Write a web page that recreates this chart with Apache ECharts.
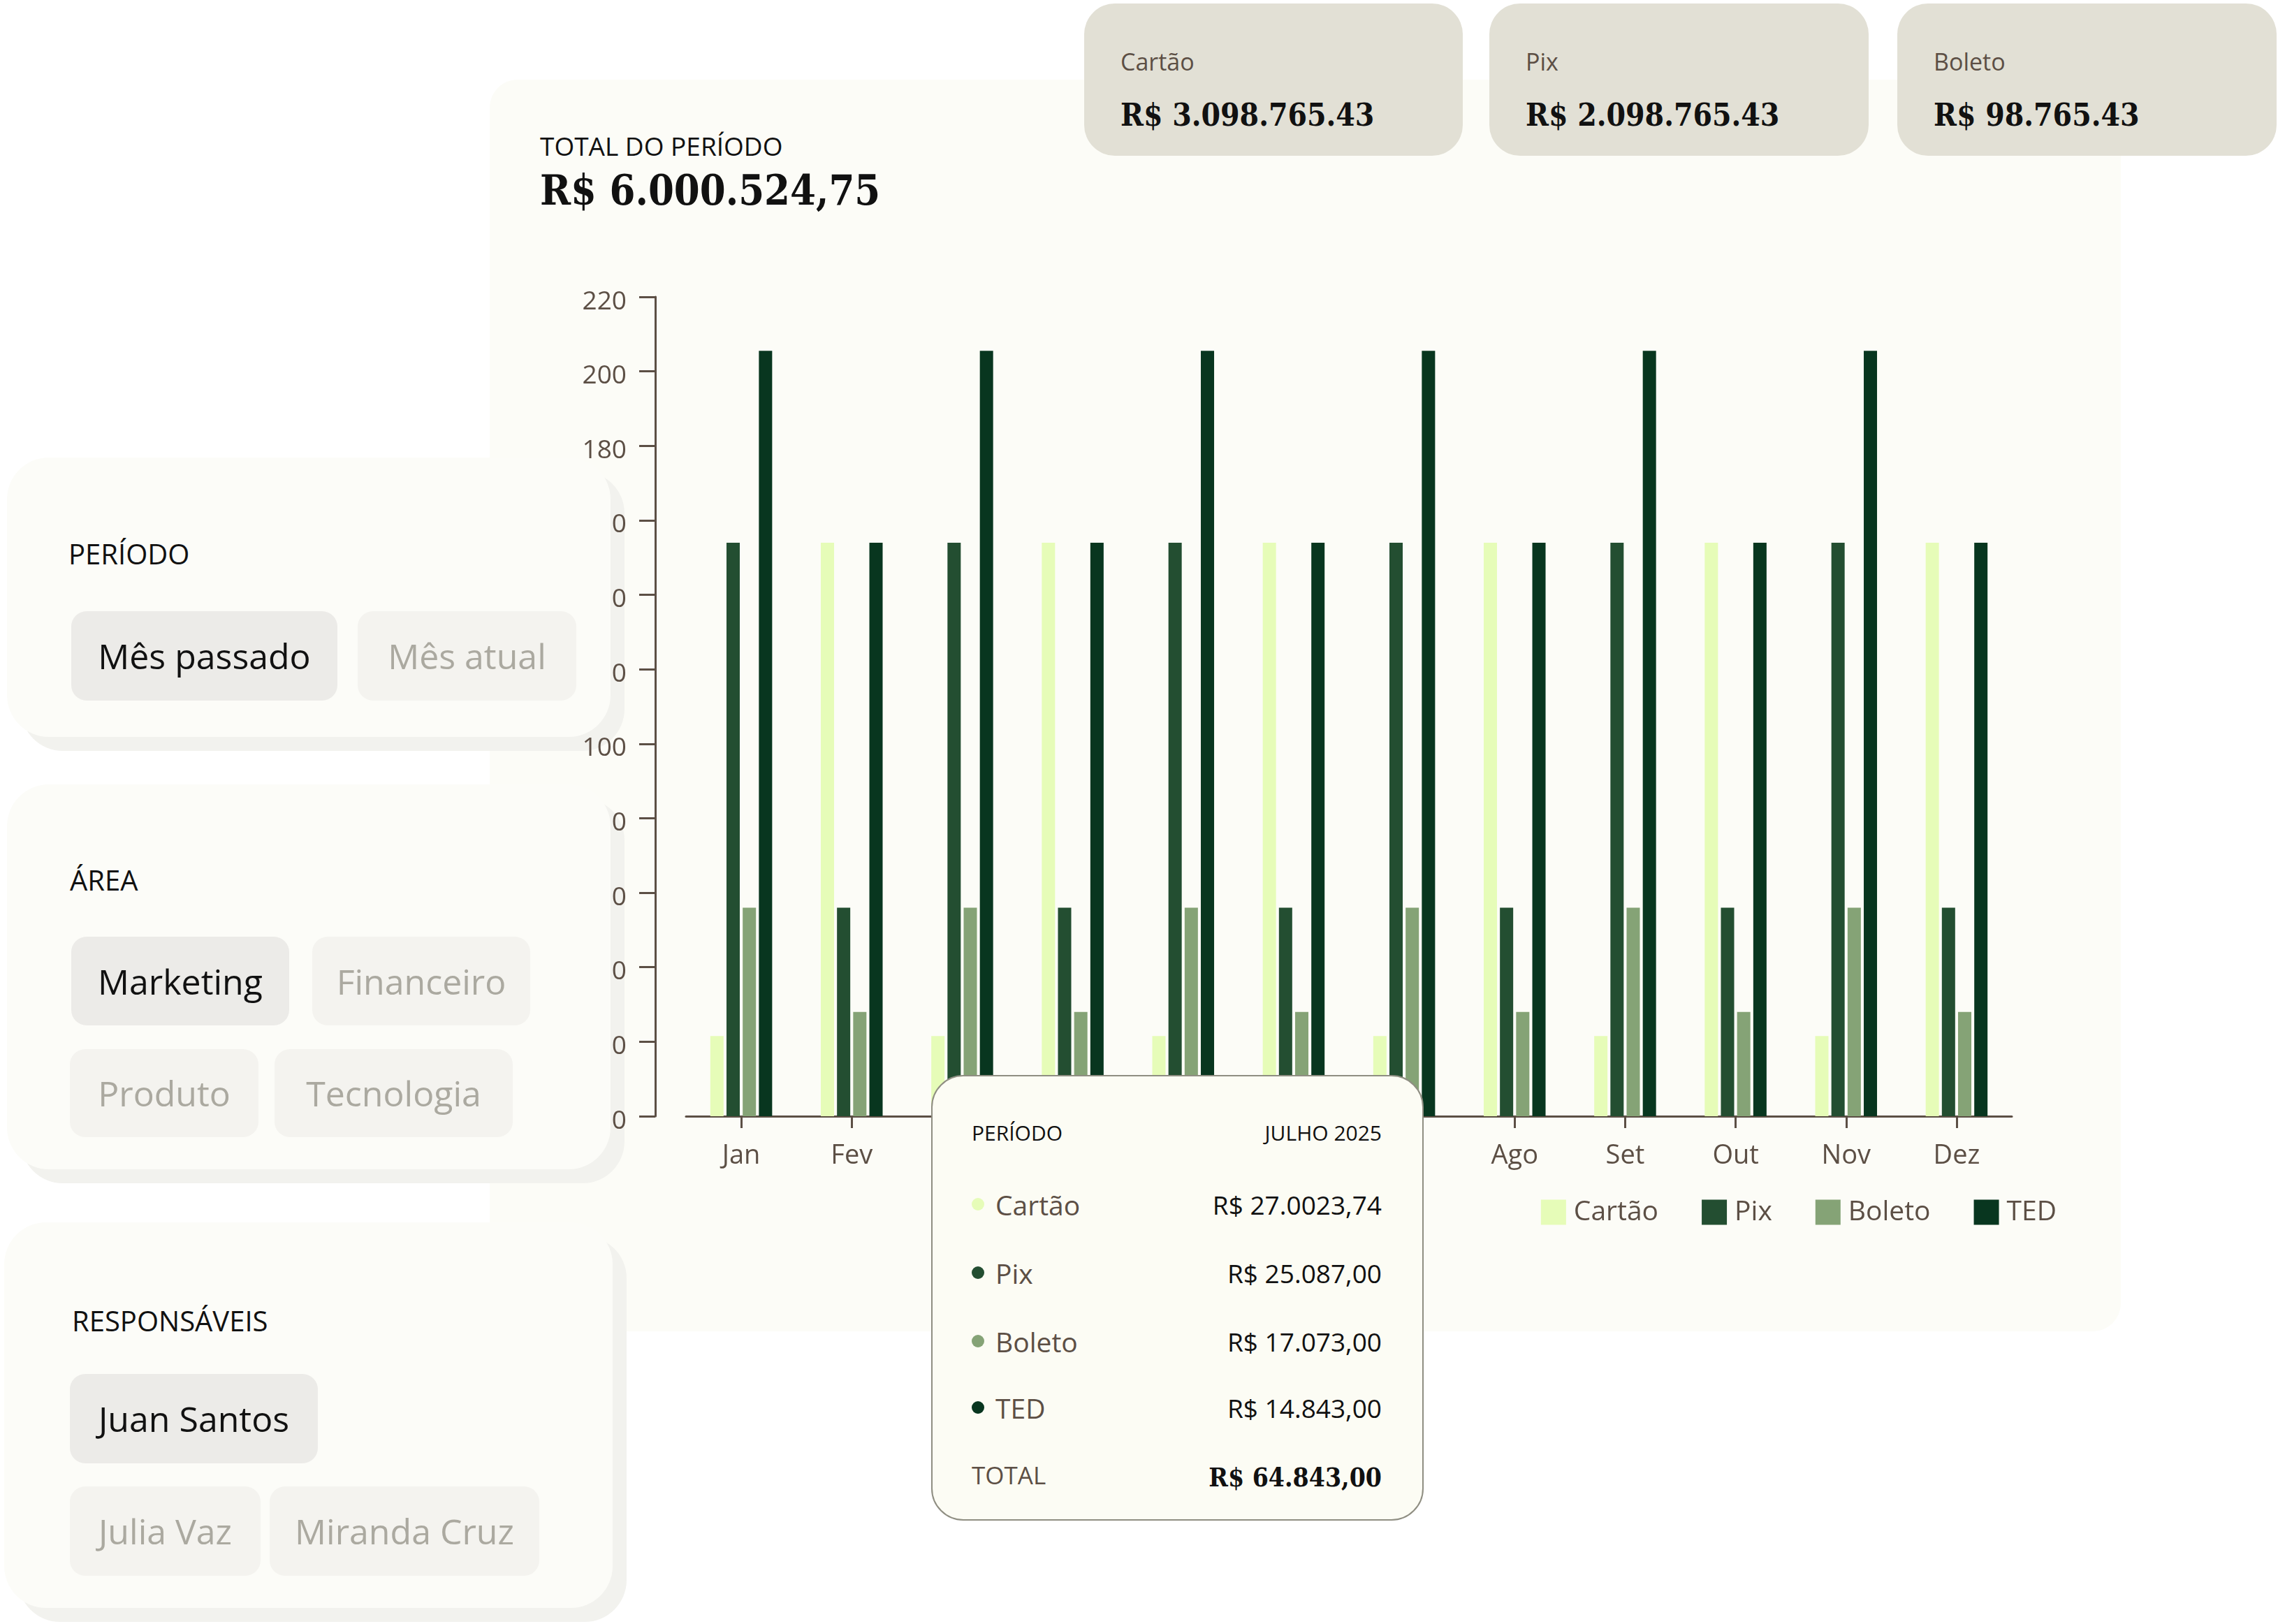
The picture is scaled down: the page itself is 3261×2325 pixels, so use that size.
<!DOCTYPE html>
<html>
<head>
<meta charset="utf-8">
<script src="https://cdn.jsdelivr.net/npm/echarts@6/dist/echarts.min.js"></script>
<style>
  html, body { margin:0; padding:0; background:#ffffff; }
  body { width:3261px; height:2325px; position:relative; overflow:hidden; font-family:'Open Sans','Noto Sans',sans-serif; }
  .abs { position:absolute; }
  .main-card { left:701px; top:114px; width:2335px; height:1792px; background:#FCFCF7; border-radius:40px; }
  .top-card { background:#E2E0D5; border-radius:44px; }
  .top-card .lbl { position:absolute; left:52px; top:83px; transform:translateY(-50%); font-size:34px; color:#5C4F45; line-height:1; }
  .top-card .val { position:absolute; left:52px; top:160px; transform:translateY(-50%); font-size:44px; font-weight:bold; color:#111; line-height:1; font-family:'DejaVu Serif Condensed','DejaVu Serif',serif; font-stretch:condensed; }
  .serif { font-family:'DejaVu Serif Condensed','DejaVu Serif',serif; font-weight:bold; font-stretch:condensed; }
  .panel { background:#FCFCF8; border-radius:60px; box-shadow:20px 20px 0 #F2F2EE; }
  .ptitle { position:absolute; font-size:40px; color:#111; line-height:1; transform:translateY(-50%); }
  .btn { position:absolute; border-radius:22px; display:flex; align-items:center; justify-content:center; font-size:50px; line-height:1; }
  .btn.on { background:#ECEBE8; color:#111; }
  .btn.off { background:#F4F3EF; color:#ABA9A0; }
  #chart { position:absolute; left:0; top:0; width:3261px; height:2325px; }
  .tip { left:1333px; top:1539px; width:701px; height:634px; background:#FCFCF4; border:2px solid #8F8E82; border-radius:46px; }
  .tip .t { position:absolute; line-height:1; transform:translateY(-50%); white-space:nowrap; }
  .tip .dot { position:absolute; width:18px; height:18px; border-radius:50%; transform:translate(-50%,-50%); }
</style>
</head>
<body>
<div id="bg"></div>
<div id="chart"></div>
<div id="fg"></div>
<script>
// ---- data ----
const months = ['Jan','Fev','Mar','Abr','Mai','Jun','Jul','Ago','Set','Out','Nov','Dez'];
const seriesNames = ['Cartão','Pix','Boleto','TED'];
const cartao = [21.5,154,21.5,154,21.5,154,21.5,154,21.5,154,21.5,154];
const pix    = [154,56,154,56,154,56,154,56,154,56,154,56];
const boleto = [56,28,56,28,56,28,56,28,56,28,56,28];
const ted    = [205.5,154,205.5,154,205.5,154,205.5,154,205.5,154,205.5,154];
const yTickLabels = ['0','0','0','0','0','100','0','0','0','180','200','220'];
const colors = ['#E6FCB8','#234E31','#85A376','#08361F'];

const cardLabels = ['Cartão','Pix','Boleto'];
const cardValues = ['R$ 3.098.765.43','R$ 2.098.765.43','R$ 98.765.43'];
const totalTitle = 'TOTAL DO PERÍODO';
const totalValue = 'R$ 6.000.524,75';

const tipPeriodLabel = 'PERÍODO';
const tipPeriod = 'JULHO 2025';
const tipValues = ['R$ 27.0023,74','R$ 25.087,00','R$ 17.073,00','R$ 14.843,00'];
const tipTotalLabel = 'TOTAL';
const tipTotal = 'R$ 64.843,00';

const filterPanels = [
  {title:'PERÍODO', options:['Mês passado','Mês atual'], active:[true,false]},
  {title:'ÁREA', options:['Marketing','Financeiro','Produto','Tecnologia'], active:[true,false,false,false]},
  {title:'RESPONSÁVEIS', options:['Juan Santos','Julia Vaz','Miranda Cruz'], active:[true,false,false]}
];

// ---- layout (HTML chrome) ----
const bg = document.getElementById('bg');
const fg = document.getElementById('fg');
function el(parent, cls, style, text){
  const d = document.createElement('div');
  d.className = cls; Object.assign(d.style, style||{});
  if (text !== undefined) d.textContent = text;
  parent.appendChild(d); return d;
}
el(bg,'abs main-card');
el(bg,'abs',{left:'773px',top:'208px',fontSize:'37px',lineHeight:'1',transform:'translateY(-50%)',color:'#111'}, totalTitle);
el(bg,'abs serif',{left:'773px',top:'272px',fontSize:'59px',lineHeight:'1',transform:'translateY(-50%)',color:'#111'}, totalValue);

const cardBoxes = [[1552,5,542,218],[2132,5,543,218],[2716,5,543,218]];
cardBoxes.forEach((b,i)=>{
  const c = el(bg,'abs top-card',{left:b[0]+'px',top:b[1]+'px',width:b[2]+'px',height:b[3]+'px'});
  el(c,'lbl',{}, cardLabels[i]);
  el(c,'val',{}, cardValues[i]);
});

const panelBoxes = [[10,655,864,400],[10,1123,864,551],[6,1750,871,552]];
const titlePos = [[98,793],[100,1260],[103,1891]];
const btnBoxes = [
  [[102,875,381,128],[512,875,313,128]],
  [[102,1341,312,127],[447,1341,312,127],[100,1502,270,126],[393,1502,341,126]],
  [[100,1967,355,128],[100,2128,273,128],[386,2128,386,128]]
];
filterPanels.forEach((p,i)=>{
  const b = panelBoxes[i];
  el(bg,'abs panel',{left:b[0]+'px',top:b[1]+'px',width:b[2]+'px',height:b[3]+'px'});
  el(bg,'ptitle',{left:titlePos[i][0]+'px',top:titlePos[i][1]+'px'}, p.title);
  p.options.forEach((o,j)=>{
    const bb = btnBoxes[i][j];
    el(bg,'btn '+(p.active[j]?'on':'off'),{left:bb[0]+'px',top:bb[1]+'px',width:bb[2]+'px',height:bb[3]+'px'}, o);
  });
});

// tooltip card
const tip = el(fg,'abs tip');
el(tip,'t',{left:'56px',top:'81px',fontSize:'30px',color:'#111'}, tipPeriodLabel);
el(tip,'t',{right:'58px',top:'81px',fontSize:'30px',color:'#111'}, tipPeriod);
const rowY = [183,281,379,474];
seriesNames.forEach((n,i)=>{
  el(tip,'dot',{left:'65px',top:rowY[i]+'px',background:colors[i]});
  el(tip,'t',{left:'90px',top:rowY[i]+'px',fontSize:'39px',color:'#5C4F45'}, n);
  el(tip,'t',{right:'58px',top:rowY[i]+'px',fontSize:'37px',color:'#111'}, tipValues[i]);
});
el(tip,'t',{left:'56px',top:'570px',fontSize:'35px',color:'#5C4F45'}, tipTotalLabel);
el(tip,'t serif',{right:'58px',top:'574px',fontSize:'37px',color:'#111'}, tipTotal);

// ---- chart ----
const chart = echarts.init(document.getElementById('chart'), null, {renderer:'canvas'});
const axisColor = '#5C4F45';
const dataSets = [cartao, pix, boleto, ted];
chart.setOption({
  backgroundColor: 'transparent',
  animation: false,
  textStyle: { fontFamily: 'Open Sans' },
  grid: { left: 982, right: 381, top: 425, bottom: 727, containLabel: false },
  legend: {
    data: seriesNames, right: 312, top: 1711, icon: 'rect',
    itemWidth: 36, itemHeight: 36, itemGap: 62,
    textStyle: { fontSize: 39, color: axisColor, fontFamily: 'Open Sans', padding: [0,0,0,6] }
  },
  xAxis: {
    type: 'category', data: months,
    axisLine: { show: true, lineStyle: { color: axisColor, width: 3 } },
    axisTick: { show: true, alignWithLabel: true, length: 17, lineStyle: { color: axisColor, width: 3 } },
    axisLabel: { fontSize: 38, color: axisColor, margin: 38, fontFamily: 'Open Sans' },
    splitLine: { show: false }
  },
  yAxis: {
    type: 'value', min: 0, max: 220, interval: 20, offset: 44,
    axisLine: { show: true, lineStyle: { color: axisColor, width: 3 } },
    axisTick: { show: true, length: 23, lineStyle: { color: axisColor, width: 3 } },
    axisLabel: { fontSize: 37, color: axisColor, margin: 41, fontFamily: 'Open Sans',
      verticalAlign: 'top', lineHeight: 14,
      formatter: (v, i) => yTickLabels[i] },
    splitLine: { show: false }
  },
  series: seriesNames.map((n,i)=>({
    name: n, type: 'bar', data: dataSets[i], barWidth: 19, barGap: '22%',
    itemStyle: { color: colors[i] }
  }))
});
</script>
</body>
</html>
